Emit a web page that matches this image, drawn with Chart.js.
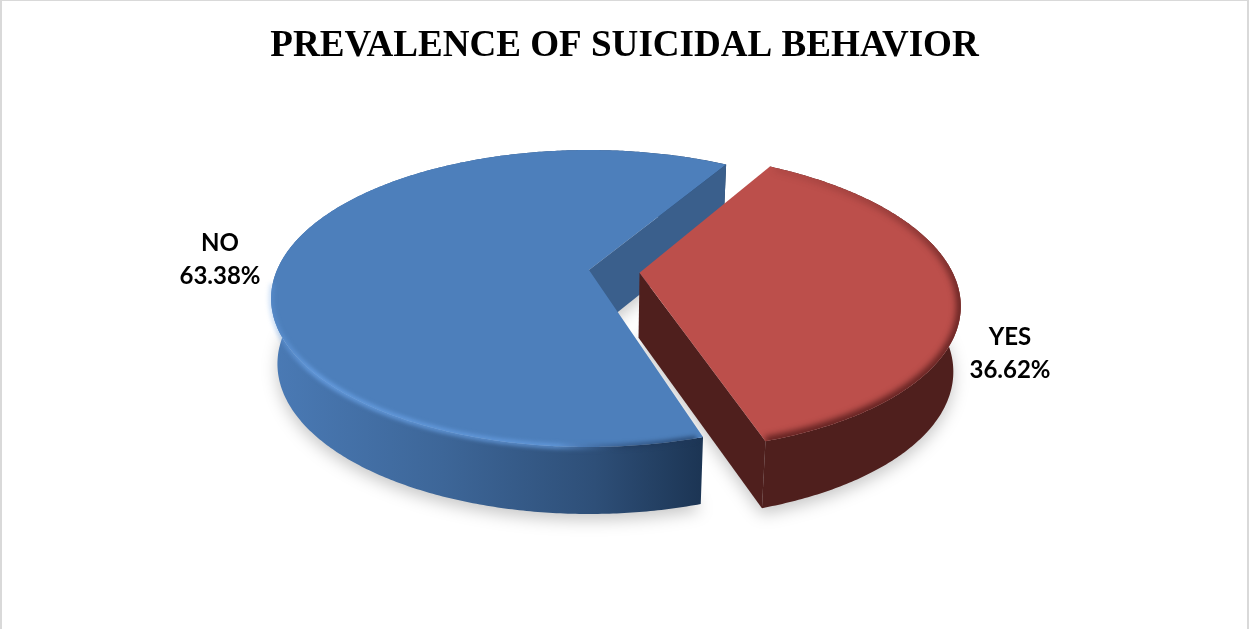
<!DOCTYPE html>
<html>
<head>
<meta charset="utf-8">
<title>Prevalence of suicidal behavior</title>
<script src="https://cdn.jsdelivr.net/npm/chart.js"></script>
<style>
    html, body { margin: 0; padding: 0; background: #fff; overflow: hidden; }
    #wrap { position: relative; width: 1249px; height: 629px; }
    #frame {
        position: absolute; inset: 0; box-sizing: border-box; pointer-events: none;
        border-top: 1px solid #d9d9d9; border-left: 2px solid #d9d9d9; border-right: 2px solid #d9d9d9;
    }
</style>
</head>
<body>
<div id="wrap">
    <canvas id="pieChart" width="1249" height="629"></canvas>
    <div id="frame"></div>
</div>
<script>
const categories = ['YES', 'NO'];
const percentages = [36.62, 63.38];
const topColors = ['#BC4F4B', '#4D7FBB'];
const cutFaceColors = ['#4F1F1D', '#3A5F8C'];

// Perspective of the tilted pie, fitted to the picture
const view = { cx: 589, cy: 270, rx: 312, ry: 143, tilt: 0.192, depth: 65, baseScale: 0.98 };
const labelSpots = { YES: [1010, 337], NO: [220, 243] };

function project(u, v, down) {
    const w = 1 - view.tilt * v;
    const x = view.rx * u / w;
    return [
        view.cx + (down ? x * view.baseScale : x),
        view.cy + view.ry * v / w + (down ? view.depth + 2 * v : 0)
    ];
}

// Slice outline in pie units, taken from the arc element Chart.js laid out
function sliceShift(el) {
    const mid = (el.startAngle + el.endAngle) / 2;
    const amount = (el.options.offset || 0) / 4 / el.outerRadius;
    return [Math.cos(mid) * amount, Math.sin(mid) * amount];
}

function rimPoint(el, angle, down) {
    const s = sliceShift(el);
    return project(s[0] + Math.cos(angle), s[1] + Math.sin(angle), down);
}

function apexPoint(el, down) {
    const s = sliceShift(el);
    return project(s[0], s[1], down);
}

function traceRim(ctx, el, from, to, down, moveFirst) {
    const steps = Math.ceil(Math.abs(to - from) / 0.01);
    for (let i = 0; i <= steps; i++) {
        const p = rimPoint(el, from + (to - from) * i / steps, down);
        if (i === 0 && moveFirst) ctx.moveTo(p[0], p[1]);
        else ctx.lineTo(p[0], p[1]);
    }
}

function traceSlice(ctx, el, down) {
    const a = apexPoint(el, down);
    ctx.beginPath();
    ctx.moveTo(a[0], a[1]);
    traceRim(ctx, el, el.startAngle, el.endAngle, down, false);
    ctx.closePath();
}

function drawShadow(ctx, el) {
    ctx.save();
    ctx.filter = 'blur(8px)';
    ctx.fillStyle = 'rgba(0,0,0,0.22)';
    ctx.translate(0, 6);
    traceSlice(ctx, el, true);
    ctx.fill();
    ctx.restore();
}

function drawBand(ctx, el, index) {
    const grad = ctx.createLinearGradient(271, 0, 702, 0);
    if (index === 1) {
        grad.addColorStop(0, '#4A7AB5');
        grad.addColorStop(0.4, '#3D6698');
        grad.addColorStop(0.75, '#2E4F78');
        grad.addColorStop(1, '#1C3554');
    } else {
        grad.addColorStop(0, '#4F1F1D');
        grad.addColorStop(1, '#4F1F1D');
    }
    ctx.beginPath();
    traceRim(ctx, el, el.startAngle, el.endAngle, false, true);
    traceRim(ctx, el, el.endAngle, el.startAngle, true, false);
    ctx.closePath();
    ctx.fillStyle = grad;
    ctx.fill();
}

function drawCutFace(ctx, el, index) {
    const a = apexPoint(el, false), b = rimPoint(el, el.endAngle, false);
    const c = rimPoint(el, el.endAngle, true), d = apexPoint(el, true);
    ctx.beginPath();
    ctx.moveTo(a[0], a[1]);
    ctx.lineTo(b[0], b[1]);
    ctx.lineTo(c[0], c[1]);
    ctx.lineTo(d[0], d[1]);
    ctx.closePath();
    ctx.fillStyle = cutFaceColors[index];
    ctx.fill();
}

function drawTop(ctx, el, index) {
    traceSlice(ctx, el, false);
    ctx.fillStyle = topColors[index];
    ctx.fill();
}

// Soft bevel along the front edge
function drawBevel(ctx, el, index) {
    ctx.save();
    if (index === 1) {
        const glow = ctx.createLinearGradient(271, 0, 680, 0);
        glow.addColorStop(0, 'rgba(104,160,228,0.3)');
        glow.addColorStop(0.1, 'rgba(104,160,228,0.9)');
        glow.addColorStop(0.7, 'rgba(104,160,228,0.75)');
        glow.addColorStop(0.86, 'rgba(30,55,90,0.45)');
        glow.addColorStop(1, 'rgba(30,55,90,0.7)');
        ctx.filter = 'blur(2px)';
        ctx.strokeStyle = glow;
        ctx.lineWidth = 5;
        ctx.beginPath();
        traceRim(ctx, el, el.startAngle + 0.02, Math.PI * 0.97, false, true);
        ctx.stroke();
    } else {
        traceSlice(ctx, el, false);
        ctx.clip();
        const dark = ctx.createLinearGradient(0, 170, 0, 420);
        dark.addColorStop(0, 'rgba(70,20,20,0.1)');
        dark.addColorStop(0.5, 'rgba(70,20,20,0.7)');
        dark.addColorStop(1, 'rgba(70,20,20,0.8)');
        ctx.filter = 'blur(3px)';
        ctx.strokeStyle = dark;
        ctx.lineWidth = 9;
        ctx.beginPath();
        traceRim(ctx, el, el.startAngle + 0.02, el.endAngle, false, true);
        ctx.stroke();
    }
    ctx.restore();
}

function drawLabels(ctx) {
    ctx.save();
    ctx.fillStyle = '#000';
    ctx.font = 'bold 24px Lato';
    ctx.textAlign = 'center';
    ctx.textBaseline = 'middle';
    categories.forEach(function (name, i) {
        const spot = labelSpots[name];
        ctx.fillText(name, spot[0], spot[1]);
        ctx.fillText(percentages[i].toFixed(2) + '%', spot[0], spot[1] + 33);
    });
    ctx.restore();
}

const pie3d = {
    id: 'pie3d',
    beforeDatasetsDraw(chart) {
        const ctx = chart.ctx;
        const arcs = chart.getDatasetMeta(0).data;
        // Back slice first, the red one sits in front of the blue cut face
        const order = [1, 0];
        order.forEach(i => drawShadow(ctx, arcs[i]));
        order.forEach(function (i) {
            drawBand(ctx, arcs[i], i);
            drawCutFace(ctx, arcs[i], i);
            drawTop(ctx, arcs[i], i);
            drawBevel(ctx, arcs[i], i);
        });
        drawLabels(ctx);
        return false; // the arcs are painted above, skip the flat ones
    }
};

new Chart(document.getElementById('pieChart').getContext('2d'), {
    type: 'pie',
    plugins: [pie3d],
    data: {
        labels: categories,
        datasets: [{
            data: percentages,
            backgroundColor: topColors,
            borderWidth: 0,
            offset: [130, 0],
            radius: 200
        }]
    },
    options: {
        responsive: false,
        animation: false,
        rotation: 30.8,
        plugins: {
            legend: { display: false },
            tooltip: { enabled: false },
            title: {
                display: true,
                text: 'PREVALENCE OF SUICIDAL BEHAVIOR',
                color: '#000',
                font: { family: 'Liberation Serif', size: 37.1, weight: 'bold' },
                padding: { top: 24, bottom: 10 }
            }
        }
    }
});
</script>
</body>
</html>
